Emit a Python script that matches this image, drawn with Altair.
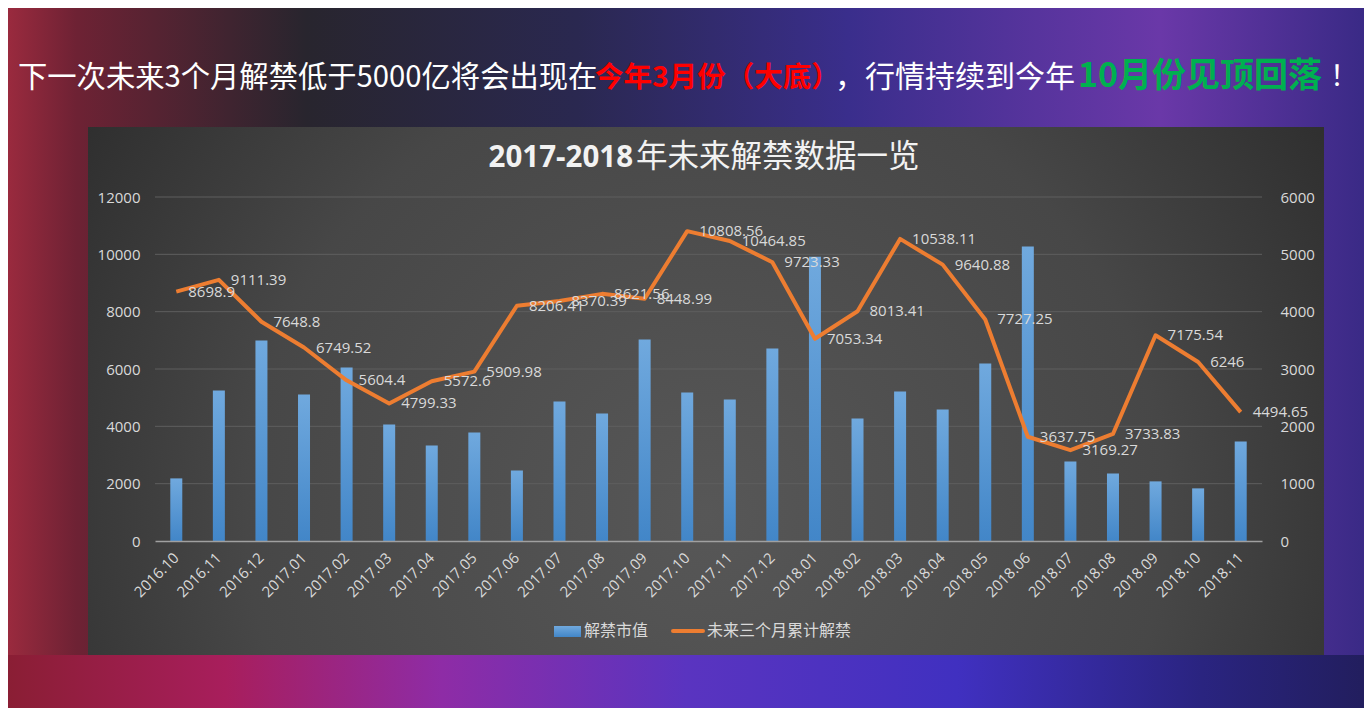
import altair as alt
import pandas as pd

# ---------------- data ----------------
months = ["2016.10", "2016.11", "2016.12", "2017.01", "2017.02", "2017.03", "2017.04",
          "2017.05", "2017.06", "2017.07", "2017.08", "2017.09", "2017.10", "2017.11",
          "2017.12", "2018.01", "2018.02", "2018.03", "2018.04", "2018.05", "2018.06",
          "2018.07", "2018.08", "2018.09", "2018.10", "2018.11"]
unlock_value = [1092, 2625, 3497, 2556, 3026, 2033, 1667, 1893, 1231, 2434, 2225, 3514, 2590,
                2469, 3357, 4960, 2137, 2608, 2294, 3096, 5135, 1388, 1179, 1040, 918, 1737]
future_3m = [8698.9, 9111.39, 7648.8, 6749.52, 5604.4, 4799.33, 5572.6, 5909.98, 8206.41,
             8370.39, 8621.56, 8448.99, 10808.56, 10464.85, 9723.33, 7053.34, 8013.41,
             10538.11, 9640.88, 7727.25, 3637.75, 3169.27, 3733.83, 7175.54, 6246, 4494.65]
left_ticks = [0, 2000, 4000, 6000, 8000, 10000, 12000]
right_ticks = [0, 1000, 2000, 3000, 4000, 5000, 6000]
series_names = ["解禁市值", "未来三个月累计解禁"]
chart_title = ["2017-2018", "年未来解禁数据一览"]
headline = ["下一次未来3个月解禁低于5000亿将会出现在", "今年3月份（大底）", "，行情持续到今年", "10月份见顶回落", "！"]

def fmt(v):
    return ("%.2f" % v).rstrip("0").rstrip(".")

df = pd.DataFrame({
    "month": months,
    "unlock": unlock_value,
    "future": future_3m,
    "label": [fmt(v) for v in future_3m],
})
grid_df = pd.DataFrame({"g": left_ticks[1:]})
one = pd.DataFrame({"k": [0]})

FONT_NUM = "Open Sans, Noto Sans CJK SC, sans-serif"
FONT_CJK = "Noto Sans CJK SC, sans-serif"
LABEL_C = "#d9d9d9"

W, H = 1107, 344
PL, PT, PR, PB = 147, 189, 102, 167

def rect(x1, x2, y1, y2, color):
    return alt.Chart(one).mark_rect(color=color).encode(
        x=alt.value(x1), x2=alt.value(x2), y=alt.value(y1), y2=alt.value(y2))

def txt(s, x, y, size, color, align="left", weight="normal", font=FONT_CJK):
    return alt.Chart(one).mark_text(
        text=s, align=align, baseline="middle", fontSize=size, color=color,
        fontWeight=weight, font=font).encode(x=alt.value(x), y=alt.value(y))

# ---------------- backgrounds ----------------
bg = rect(-PL, W + PR, -PT, H + PB, alt.LinearGradient(
    gradient="linear", x1=0, y1=0, x2=1, y2=0,
    stops=[alt.GradientStop(color="#9a2a3e", offset=0),
           alt.GradientStop(color="#6e2234", offset=0.05),
           alt.GradientStop(color="#28252e", offset=0.22),
           alt.GradientStop(color="#2a2850", offset=0.42),
           alt.GradientStop(color="#3a2e8c", offset=0.62),
           alt.GradientStop(color="#6a38a8", offset=0.85),
           alt.GradientStop(color="#3a2a86", offset=1)]))
band = rect(-PL, W + PR, 458, H + PB, alt.LinearGradient(
    gradient="linear", x1=0, y1=0, x2=1, y2=0,
    stops=[alt.GradientStop(color="#8a1e34", offset=0),
           alt.GradientStop(color="#a81e5c", offset=0.16),
           alt.GradientStop(color="#8e2ca6", offset=0.32),
           alt.GradientStop(color="#5a34c0", offset=0.5),
           alt.GradientStop(color="#4030c0", offset=0.7),
           alt.GradientStop(color="#2a2480", offset=0.88),
           alt.GradientStop(color="#221e5e", offset=1)]))
panel = rect(-67, 1169, -70, 458, alt.RadialGradient(
    gradient="radial", x1=0.5, y1=0.6, r1=0, x2=0.5, y2=0.6, r2=0.62,
    stops=[alt.GradientStop(color="#575757", offset=0),
           alt.GradientStop(color="#474747", offset=0.6),
           alt.GradientStop(color="#2c2c2c", offset=1)]))

grid = alt.Chart(grid_df).mark_rule(color="#5e5e5e", strokeWidth=1).encode(
    y=alt.Y("g:Q", scale=alt.Scale(domain=[0, 12000], nice=False), axis=None))

xenc = alt.X("month:N", sort=months, title=None,
             scale=alt.Scale(paddingInner=0, paddingOuter=0),
             axis=alt.Axis(labelAngle=-45, labelColor=LABEL_C, labelFontSize=15,
                           labelFont=FONT_NUM, ticks=False, domainColor="#a0a0a0",
                           domainWidth=1.5, labelPadding=9, labelOffset=-5,
                           zindex=1, grid=False))

bars = alt.Chart(df).mark_bar(size=12, color=alt.LinearGradient(
    gradient="linear", x1=0, y1=0, x2=0, y2=1,
    stops=[alt.GradientStop(color="#70a9de", offset=0),
           alt.GradientStop(color="#4286c8", offset=1)])).encode(
    x=xenc,
    y=alt.Y("unlock:Q", title=None, scale=alt.Scale(domain=[0, 6000], nice=False),
            axis=alt.Axis(orient="right", values=right_ticks, format="d", grid=False,
                          domain=False, ticks=False, labelPadding=18, labelColor=LABEL_C,
                          labelFontSize=15, labelFont=FONT_NUM, zindex=1)))

yline = alt.Y("future:Q", title=None, scale=alt.Scale(domain=[0, 12000], nice=False),
              axis=alt.Axis(orient="left", values=left_ticks, format="d", grid=False,
                            domain=False, ticks=False, labelPadding=15, labelColor=LABEL_C,
                            labelFontSize=15, labelFont=FONT_NUM, zindex=1))
xline = alt.X("month:N", sort=months, title=None)
line = alt.Chart(df).mark_line(color="#ed7d31", strokeWidth=4, strokeJoin="round").encode(
    x=xline, y=yline)
labels = alt.Chart(df).mark_text(align="left", baseline="middle", dx=12, fontSize=15,
                                 color=LABEL_C, font=FONT_NUM).encode(
    x=xline, y=yline, text="label:N")
line_group = alt.layer(line, labels)

# ---------------- texts ----------------
texts = [
    txt(headline[0], 18 - 155, -119, 29.3, "#ffffff"),
    txt(headline[1], 595 - 155, -119, 28.5, "#ff0000", weight="bold"),
    txt(headline[2], 835 - 155, -119, 30, "#ffffff"),
    txt(headline[3], 1078 - 155, -120, 34, "#00b050", weight="bold"),
    txt(headline[4], 1330 - 155, -119, 28, "#ffffff"),
    txt(chart_title[0], 633 - 155, -39, 29.5, "#f2f2f2", align="right", weight="bold", font=FONT_NUM),
    txt(chart_title[1], 636 - 155, -39, 31.5, "#f2f2f2"),
    txt(series_names[0], 584 - 155, 434, 16, LABEL_C),
    txt(series_names[1], 707 - 155, 434, 16, LABEL_C),
]
leg_bar = rect(554 - 155, 581 - 155, 626 - 197, 637 - 197, alt.LinearGradient(
    gradient="linear", x1=0, y1=0, x2=0, y2=1,
    stops=[alt.GradientStop(color="#70a9de", offset=0),
           alt.GradientStop(color="#4286c8", offset=1)]))
leg_line = alt.Chart(one).mark_rule(color="#ed7d31", strokeWidth=4, strokeCap="round").encode(
    x=alt.value(673 - 155), x2=alt.value(703 - 155), y=alt.value(434))

chart = alt.layer(bg, band, panel, grid, bars, line_group, leg_bar, leg_line, *texts).resolve_scale(
    y="independent"
).properties(
    width=W, height=H,
    autosize=alt.AutoSizeParams(type="none"),
    padding={"left": PL, "top": PT, "right": PR, "bottom": PB},
).configure_view(stroke=None)

chart.save("out.html", embed_options={"renderer": "svg", "actions": False})
